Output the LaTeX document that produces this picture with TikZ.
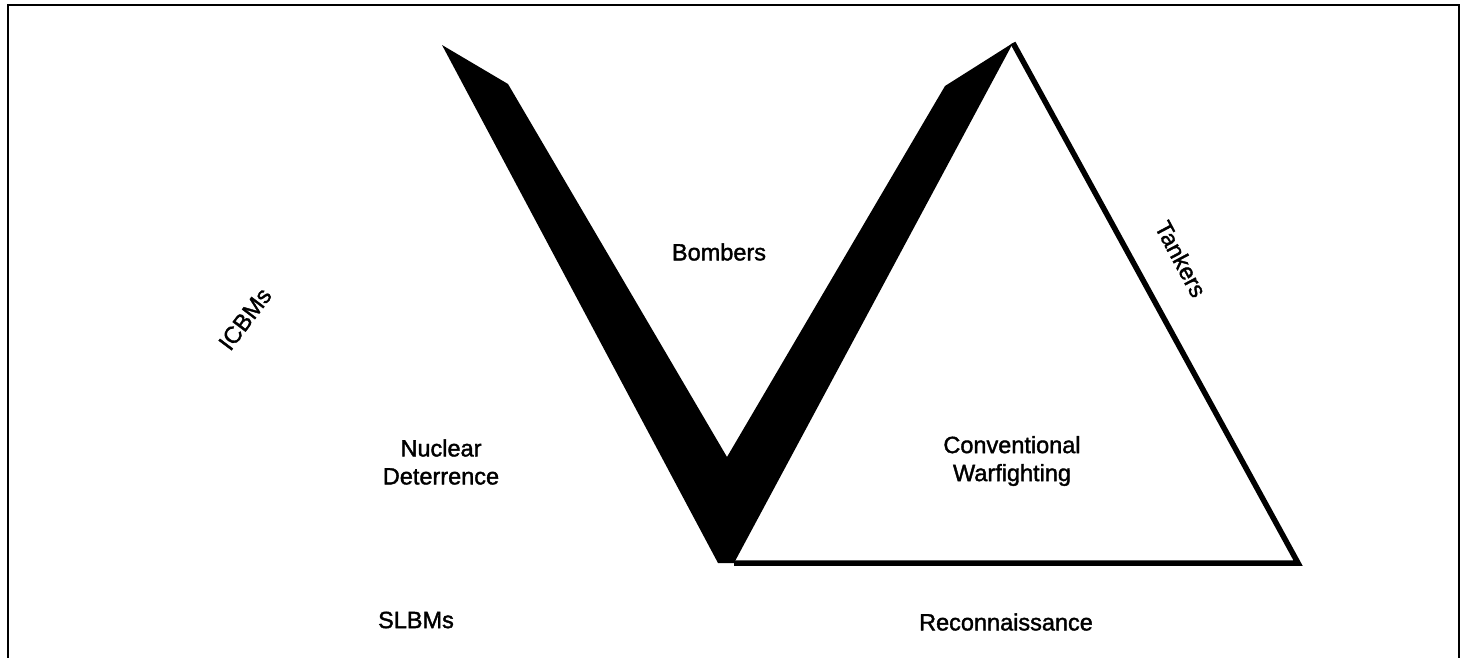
\documentclass[tikz,border=0pt]{standalone}
\usepackage{fontspec}
\setmainfont{Liberation Sans}
\newfontfamily\lblfont[FakeBold=1.6]{Liberation Sans}
\begin{document}
\begin{tikzpicture}[x=1pt,y=-1pt,
  lbl/.style={font=\lblfont\fontsize{23.5}{28}\selectfont, align=center, inner sep=0pt},
  frame/.style={line width=2.8pt},
  tri/.style={line width=5.5pt, line join=miter}]
\useasboundingbox (0,0) rectangle (1462,657);
% frame
\draw[frame] (8,660) -- (8,5) -- (1459,5) -- (1459,660);
% corner coordinates
\coordinate (tip) at (442,45);
\coordinate (ltop) at (508,84);
\coordinate (vin) at (727,457);
\coordinate (rtop) at (945,86);
\coordinate (apex) at (1013,43);
\coordinate (vbr) at (734,563);
\coordinate (vbl) at (718,563);
\coordinate (bright) at (1298,563);
% triangle
\draw[tri] (apex) -- (bright) -- (vbr);
% black V
\fill[black] (tip) -- (ltop) -- (vin) -- (rtop) -- (apex) -- (vbr) -- (vbl) -- cycle;
% labels
\node[lbl] (bombers) at (719,252) {Bombers};
\node[lbl, rotate=53] (icbms) at (245,319) {ICBMs};
\node[lbl, rotate=-62] (tankers) at (1181,259) {Tankers};
\node[lbl] (nuclear) at (441,462) {Nuclear\\Deterrence};
\node[lbl] (conv) at (1012,461) {Conventional\\Warfighting};
\node[lbl] (slbms) at (416,620) {SLBMs};
\node[lbl] (recon) at (1006,622) {Reconnaissance};
\end{tikzpicture}
\end{document}
